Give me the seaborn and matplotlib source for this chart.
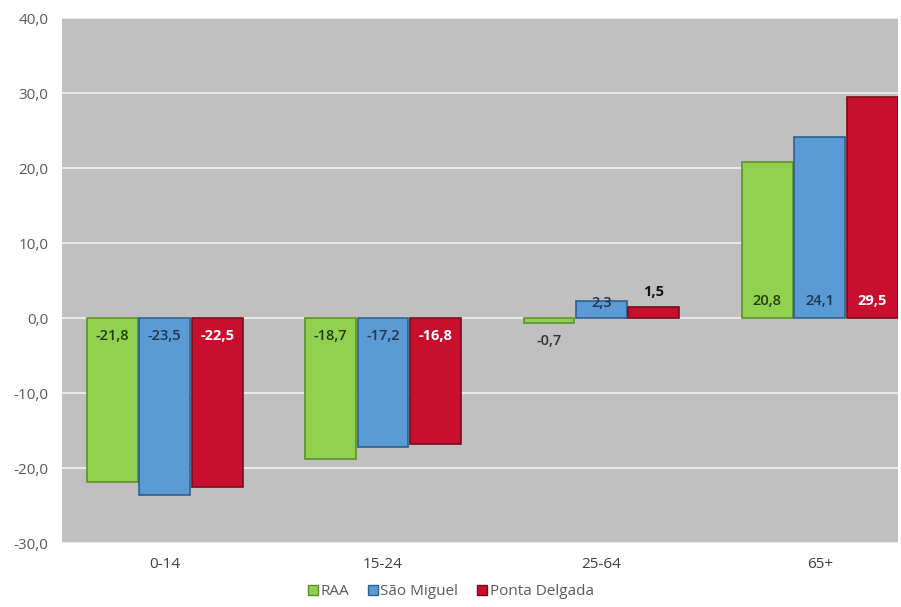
import matplotlib
matplotlib.use("Agg")
import matplotlib.pyplot as plt
import seaborn as sns
import pandas as pd
from matplotlib.lines import Line2D

categories = ["0-14", "15-24", "25-64", "65+"]
series = ["RAA", "São Miguel", "Ponta Delgada"]
raa = [-21.8, -18.7, -0.7, 20.8]
sao_miguel = [-23.5, -17.2, 2.3, 24.1]
ponta_delgada = [-22.5, -16.8, 1.5, 29.5]
yticks = [-30, -20, -10, 0, 10, 20, 30, 40]

colors = {"RAA": "#92d050", "São Miguel": "#5b9bd5", "Ponta Delgada": "#c8102e"}
edge = {"RAA": "#5e8f2a", "São Miguel": "#2f5f8f", "Ponta Delgada": "#7a0a1c"}
label_col = {"RAA": "#1f3d0c", "São Miguel": "#1f3550", "Ponta Delgada": "white"}

rows = []
for s, vals in zip(series, [raa, sao_miguel, ponta_delgada]):
    for c, v in zip(categories, vals):
        rows.append({"cat": c, "series": s, "value": v})
df = pd.DataFrame(rows)

sns.set_theme(style="white")
plt.rcParams["font.family"] = ["Open Sans", "DejaVu Sans"]

fig = plt.figure(figsize=(9.01, 6.07), dpi=100)
ax = fig.add_axes([0.069, 0.105, 0.928, 0.865])
ax.set_facecolor("#c0c0c0")

sns.barplot(data=df, x="cat", y="value", hue="series", order=categories,
            hue_order=series, palette=colors, width=0.72, ax=ax,
            legend=False, saturation=1, gap=0.03)

def fmt(v):
    return f"{v:.1f}".replace(".", ",")

for cont, s in zip(ax.containers, series):
    for bar, v in zip(cont, df[df.series == s]["value"]):
        bar.set_edgecolor(edge[s])
        bar.set_linewidth(1.2)
        cx = bar.get_x() + bar.get_width() / 2
        col = label_col[s]
        if abs(v) < 3:
            if v < 0:
                ax.text(cx, v - 2.3, fmt(v), ha="center", va="center",
                        fontsize=10.5, color="#333333", fontweight="semibold")
            elif s == "Ponta Delgada":
                ax.text(cx, v + 2.0, fmt(v), ha="center", va="center",
                        fontsize=10.5, color="#111111", fontweight="bold")
            else:
                ax.text(cx, 2.0, fmt(v), ha="center", va="center",
                        fontsize=10.5, color=col, fontweight="semibold")
        else:
            y = -2.4 if v < 0 else 2.3
            ax.text(cx, y, fmt(v), ha="center", va="center",
                    fontsize=10.5, color=col,
                    fontweight="bold" if s == "Ponta Delgada" else "semibold")

ax.set_ylim(-30, 40)
ax.set_xlim(-0.47, 3.36)
ax.set_yticks(yticks)
ax.set_yticklabels([fmt(t) for t in yticks], color="#595959", fontsize=11)
ax.tick_params(axis="x", colors="#404040", labelsize=11, length=0, pad=10)
ax.tick_params(axis="y", length=0, pad=10)
ax.yaxis.grid(True, color="#f2f2f2", linewidth=1.2)
ax.set_axisbelow(True)
for sp in ax.spines.values():
    sp.set_visible(False)
ax.set_xlabel("")
ax.set_ylabel("")

handles = [Line2D([0], [0], marker="s", linestyle="", markersize=7,
                  markerfacecolor=colors[s], markeredgecolor=edge[s]) for s in series]
fig.legend(handles, series, loc="lower center", ncol=3, frameon=False,
           bbox_to_anchor=(0.5, -0.01), fontsize=11, handletextpad=0.15,
           handlelength=0.7, columnspacing=1.2, labelcolor="#595959")

fig.savefig("out.png", dpi=100, facecolor="white")
